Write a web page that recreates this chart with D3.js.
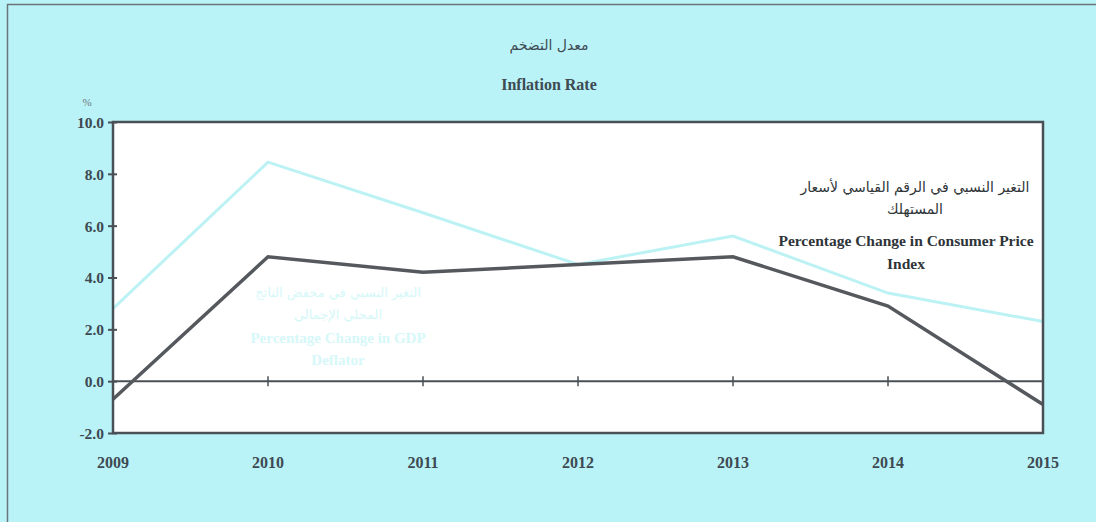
<!DOCTYPE html>
<html>
<head>
<meta charset="utf-8">
<script src="https://cdn.jsdelivr.net/npm/d3@7"></script>
<style>
body { margin: 0; background: #b9f3f8; }
svg text { font-family: "Liberation Serif", "DejaVu Serif", serif; fill: #3e4a52; }
</style>
</head>
<body>
<div class="chart"></div>
<script>
var years = [2009, 2010, 2011, 2012, 2013, 2014, 2015];
var cpi = [-0.7, 4.8, 4.2, 4.5, 4.8, 2.9, -0.9];
var gdpDeflator = [2.8, 8.45, 6.5, 4.5, 5.6, 3.4, 2.3];
var yTicks = [-2, 0, 2, 4, 6, 8, 10];

var width = 1096, height = 522;
var margin = {top: 122, right: 53, bottom: 89, left: 113};

var svg = d3.select(".chart").append("svg")
	.attr("width", width)
	.attr("height", height);

// outer frame lines (top + left)
svg.append("rect").attr("width", width).attr("height", height).attr("fill", "#b9f3f8");
svg.append("line").attr("x1", 7).attr("x2", width).attr("y1", 4.5).attr("y2", 4.5)
	.attr("stroke", "#6b7479").attr("stroke-width", 1.5);
svg.append("line").attr("x1", 7.5).attr("x2", 7.5).attr("y1", 4).attr("y2", height)
	.attr("stroke", "#6b7479").attr("stroke-width", 1.5);

var w = width - margin.left - margin.right;
var h = height - margin.top - margin.bottom;

var x = d3.scaleLinear().domain([2009, 2015]).range([0, w]);
var y = d3.scaleLinear().domain([-2, 10]).range([h, 0]);

var g = svg.append("g").attr("transform", "translate(" + margin.left + "," + margin.top + ")");

g.append("rect").attr("width", w).attr("height", h).attr("fill", "#fff");

// titles
svg.append("text").attr("x", 549).attr("y", 50).attr("text-anchor", "middle")
	.style("font-family", "'DejaVu Sans', sans-serif").style("font-size", "14px")
	.text("معدل التضخم");
svg.append("text").attr("x", 549).attr("y", 90).attr("text-anchor", "middle")
	.style("font-size", "16px").style("font-weight", "bold")
	.text("Inflation Rate");
svg.append("text").attr("x", 87).attr("y", 106).attr("text-anchor", "middle")
	.style("font-size", "11px").style("fill", "#6b7479").text("%");

// y axis
var yAxis = d3.axisLeft(y).tickValues(yTicks).tickFormat(d => d.toFixed(1)).tickSize(5);
var ya = g.append("g").call(yAxis);
ya.select(".domain").remove();
ya.selectAll(".tick line").attr("x1", -5).attr("x2", 4).attr("stroke", "#4a5156").attr("stroke-width", 2);
ya.selectAll(".tick text").attr("x", -9).attr("dy", "0.35em")
	.style("font-size", "15.5px").style("font-weight", "bold")
	.style("font-family", "'Liberation Serif', serif").style("fill", "#3e4a52");

// zero line with year ticks
g.append("line").attr("x1", 0).attr("x2", w).attr("y1", y(0)).attr("y2", y(0))
	.attr("stroke", "#4a5156").attr("stroke-width", 2);
g.selectAll(".ytick0").data(years.slice(1, -1)).enter().append("line")
	.attr("x1", d => x(d)).attr("x2", d => x(d))
	.attr("y1", y(0) - 5).attr("y2", y(0) + 5)
	.attr("stroke", "#4a5156").attr("stroke-width", 1.5);

// year labels
g.selectAll(".year").data(years).enter().append("text")
	.attr("x", d => x(d)).attr("y", h + 35).attr("text-anchor", "middle")
	.style("font-size", "16px").style("font-weight", "bold")
	.text(d => d);

var line = d3.line().x((d, i) => x(years[i])).y(d => y(d));

g.append("path").datum(gdpDeflator).attr("d", line)
	.attr("fill", "none").attr("stroke", "#bdf2f4").attr("stroke-width", 3);
g.append("path").datum(cpi).attr("d", line)
	.attr("fill", "none").attr("stroke", "#55595d").attr("stroke-width", 3.5);

// frame
g.append("rect").attr("width", w).attr("height", h)
	.attr("fill", "none").attr("stroke", "#4a5156").attr("stroke-width", 2.5);

// series labels
var cpiLabel = [
	{t: "التغير النسبي في الرقم القياسي لأسعار", ar: true},
	{t: "المستهلك", ar: true},
	{t: "Percentage Change in Consumer Price", ar: false},
	{t: "Index", ar: false}
];
var cpiY = [192, 214, 246, 269];
svg.selectAll(".cpil").data(cpiLabel).enter().append("text")
	.attr("x", (d, i) => d.ar ? 915 : 906).attr("y", (d, i) => cpiY[i]).attr("text-anchor", "middle")
	.style("font-family", d => d.ar ? "'DejaVu Sans', sans-serif" : "'Liberation Serif', serif")
	.style("font-size", d => d.ar ? "14px" : "15.5px")
	.style("font-weight", d => d.ar ? "normal" : "bold")
	.style("fill", "#2e3438")
	.text(d => d.t);

var gdpLabel = [
	{t: "التغير النسبي في مخفض الناتج", ar: true},
	{t: "المحلي الإجمالي", ar: true},
	{t: "Percentage Change in GDP", ar: false},
	{t: "Deflator", ar: false}
];
var gdpY = [297, 319, 343, 365];
svg.selectAll(".gdpl").data(gdpLabel).enter().append("text")
	.attr("x", 338).attr("y", (d, i) => gdpY[i]).attr("text-anchor", "middle")
	.style("font-family", d => d.ar ? "'DejaVu Sans', sans-serif" : "'Liberation Serif', serif")
	.style("font-size", d => d.ar ? "13px" : "15px")
	.style("font-weight", d => d.ar ? "normal" : "bold")
	.style("fill", "#d6f8f9")
	.text(d => d.t);
</script>
</body>
</html>
